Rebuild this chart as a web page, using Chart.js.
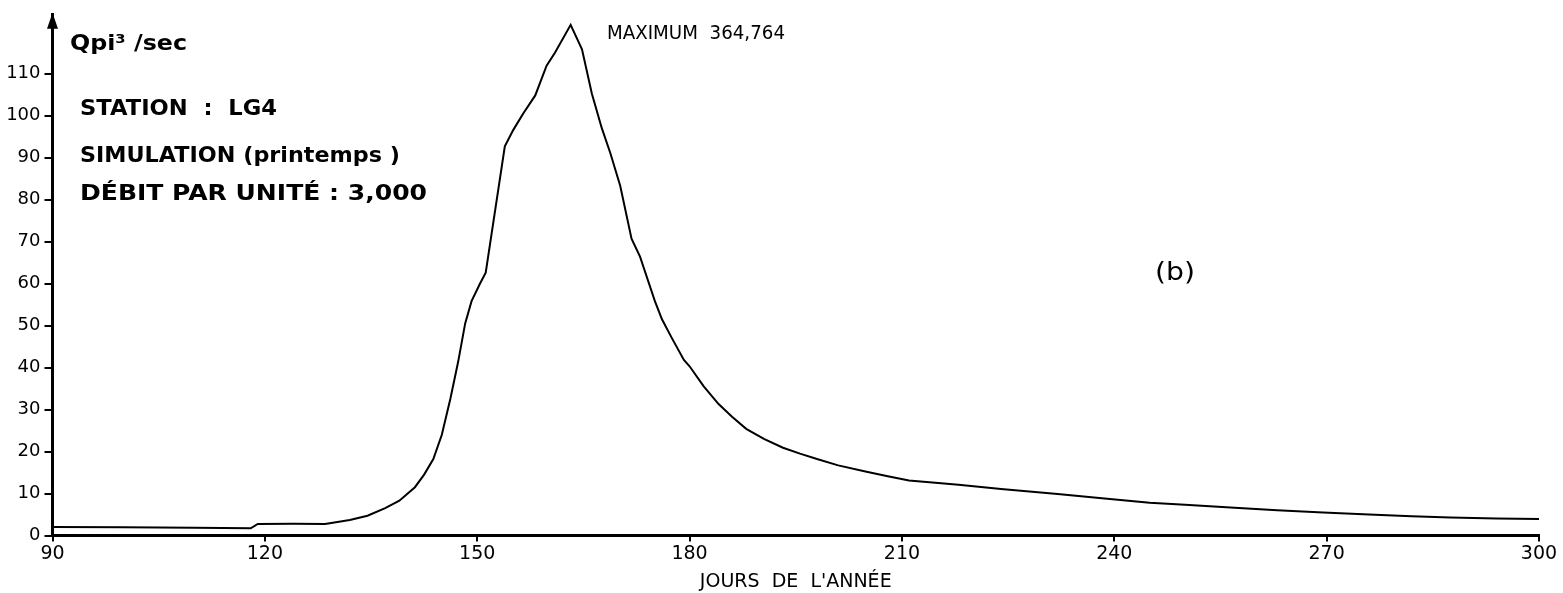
<!DOCTYPE html>
<html>
<head>
<meta charset="utf-8">
<script src="https://cdn.jsdelivr.net/npm/chart.js@4.4.0/dist/chart.umd.min.js"></script>
<style>
html,body{margin:0;padding:0;background:#fff;}
#wrap{width:1563px;height:593px;position:relative;}
</style>
</head>
<body>
<div id="wrap"><canvas id="c" width="1563" height="593"></canvas></div>
<script>
// ---- data ----
const days = [90, 100, 110, 118, 119, 124, 128.5, 132, 134.5, 137, 139, 141.2, 142.5, 143.8, 145, 146.2, 147.3, 148.3, 149.2, 150.4, 151.2, 153.9, 155.1, 156.5, 158.2, 159.8, 161, 163.2, 164.8, 166.2, 167.6, 168.8, 170.2, 171.8, 173, 175.1, 176.1, 177.5, 179.2, 180, 182, 184.1, 186, 188, 190.5, 193.2, 195.6, 198, 201, 205, 208, 211, 218, 224, 232, 239, 245, 250, 257, 263, 269.5, 276, 282, 287.5, 294, 300];
const flow = [2.05, 1.95, 1.85, 1.7, 2.75, 2.8, 2.75, 3.7, 4.7, 6.5, 8.3, 11.5, 14.5, 18.2, 24, 32.5, 41.3, 50.5, 55.8, 60, 62.6, 92.7, 96.6, 100.5, 104.8, 111.9, 115, 121.6, 115.8, 105.2, 97, 91.1, 83.3, 70.7, 66.4, 55.8, 51.5, 47, 41.8, 40.3, 35.5, 31.3, 28.3, 25.4, 23, 20.9, 19.5, 18.2, 16.7, 15.2, 14.1, 13.1, 12.1, 11.1, 9.9, 8.75, 7.8, 7.3, 6.6, 6, 5.5, 5, 4.6, 4.3, 4.05, 3.9];
const xTicks = [90, 120, 150, 180, 210, 240, 270, 300];
const yTicks = [0, 10, 20, 30, 40, 50, 60, 70, 80, 90, 100, 110];
const xTitle = "JOURS  DE  L'ANNÉE";
const noteTexts = ["Qpi³ /sec", "STATION  :  LG4", "SIMULATION (printemps )", "DÉBIT PAR UNITÉ : 3,000", "MAXIMUM  364,764", "(b)"];

// ---- text placement (layout only) ----
const notePlacement = [
  {x: 70,   base: 50,  w: 117, size: 21, weight: 'bold'},
  {x: 80,   base: 115, w: 197, size: 21, weight: 'bold'},
  {x: 80,   base: 161.5, w: 320, size: 21, weight: 'bold'},
  {x: 80,   base: 200, w: 347, size: 21, weight: 'bold'},
  {x: 607,  base: 39,  w: 178, size: 19, weight: 'normal'},
  {x: 1155, base: 280, w: 40,  size: 25, weight: 'normal'}
];

const FONT = "'DejaVu Sans', 'Liberation Sans', sans-serif";

const decorPlugin = {
  id: 'decor',
  afterDraw(chart) {
    const ctx = chart.ctx;
    const area = chart.chartArea;
    ctx.save();
    ctx.fillStyle = '#000';
    ctx.textAlign = 'left';
    ctx.textBaseline = 'alphabetic';
    noteTexts.forEach((t, i) => {
      const p = notePlacement[i];
      ctx.font = p.weight + ' ' + p.size + 'px ' + FONT;
      const m = ctx.measureText(t).width;
      ctx.save();
      ctx.translate(p.x, p.base);
      ctx.scale(p.w / m, 1);
      ctx.fillText(t, 0, 0);
      ctx.restore();
    });
    // arrow head on top of y axis
    const x0 = area.left;
    const top = area.top;
    ctx.beginPath();
    ctx.moveTo(x0, top - 2);
    ctx.lineTo(x0 - 5.5, top + 14);
    ctx.lineTo(x0 + 5.5, top + 14);
    ctx.closePath();
    ctx.fill();
    ctx.restore();
  }
};

new Chart(document.getElementById('c').getContext('2d'), {
  type: 'line',
  data: {
    datasets: [{
      data: days.map((d, i) => ({x: d, y: flow[i]})),
      borderColor: '#000',
      borderWidth: 2,
      pointRadius: 0,
      tension: 0,
      fill: false
    }]
  },
  options: {
    responsive: false,
    animation: false,
    devicePixelRatio: 1,
    layout: {padding: {left: 0, right: 24, top: 8.5, bottom: 0}},
    plugins: {legend: {display: false}, tooltip: {enabled: false}},
    scales: {
      x: {
        type: 'linear', min: 90, max: 300,
        afterBuildTicks: s => { s.ticks = xTicks.map(v => ({value: v})); },
        afterFit: s => { s.height = 57.5; },
        grid: {display: true, drawOnChartArea: false, drawTicks: true, tickLength: 6, color: '#000', lineWidth: 2},
        border: {display: true, color: '#000', width: 3},
        ticks: {color: '#000', font: {family: FONT, size: 19}, padding: 1, maxRotation: 0, autoSkip: false},
        title: {display: true, text: xTitle, color: '#000', font: {family: FONT, size: 19}, padding: {top: 0, bottom: 0}}
      },
      y: {
        type: 'linear', min: 0, max: 124,
        afterBuildTicks: s => { s.ticks = yTicks.map(v => ({value: v})); },
        afterFit: s => { s.width = 52.5; },
        grid: {display: true, drawOnChartArea: false, drawTicks: true, tickLength: 8, color: '#000', lineWidth: 2},
        border: {display: true, color: '#000', width: 3},
        ticks: {color: '#000', font: {family: FONT, size: 18}, padding: 4}
      }
    }
  },
  plugins: [decorPlugin]
});
</script>
</body>
</html>
